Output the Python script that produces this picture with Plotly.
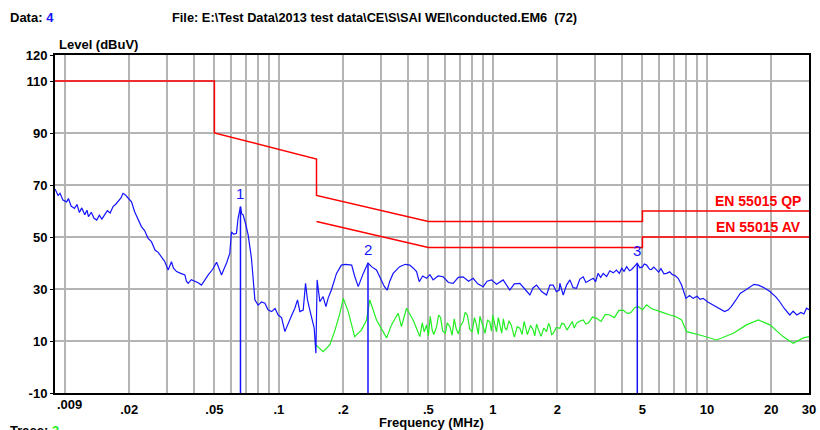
import math
import plotly.graph_objects as go

# ---------------- data ----------------
# Peak scan (blue), frequency in MHz, level in dBuV
blue_freq = [0.009, 0.0093, 0.0095, 0.0098, 0.0102, 0.0104, 0.0107, 0.0111, 0.0114, 0.0117,
             0.0120, 0.0124, 0.0127, 0.0129, 0.0133, 0.0137, 0.0141, 0.0145, 0.0149, 0.0154,
             0.0158, 0.0163, 0.0168, 0.0173, 0.0178, 0.0183, 0.0187, 0.0192, 0.0198, 0.0205,
             0.0212, 0.0220, 0.0228, 0.0236, 0.0245, 0.0254, 0.0264, 0.0273, 0.0283, 0.0293,
             0.0304, 0.0310, 0.0315, 0.0322, 0.0333, 0.0348, 0.0364, 0.0370, 0.0377, 0.0390,
             0.0405, 0.0420, 0.0435, 0.0450, 0.0468, 0.0490, 0.0512, 0.0525, 0.0540, 0.0555,
             0.0570, 0.0590, 0.0601, 0.0615, 0.0634, 0.0645, 0.0662, 0.0670, 0.0681, 0.0700,
             0.0719, 0.0745, 0.0773, 0.0800, 0.0830, 0.0861, 0.0890, 0.0925, 0.0960, 0.0993,
             0.103, 0.1067, 0.1105, 0.115, 0.1188, 0.1223, 0.1254, 0.130, 0.1333, 0.136,
             0.1396, 0.143, 0.1463, 0.149, 0.151, 0.1555, 0.161, 0.166, 0.170, 0.176,
             0.181, 0.186, 0.196, 0.205, 0.219, 0.226, 0.235, 0.242, 0.248, 0.261,
             0.272, 0.286, 0.302, 0.311, 0.321, 0.330, 0.342, 0.367, 0.390, 0.409,
             0.425, 0.440, 0.453, 0.470, 0.490, 0.508, 0.526, 0.555, 0.586, 0.620,
             0.652, 0.690, 0.726, 0.770, 0.809, 0.850, 0.901, 0.94, 0.986, 1.04,
             1.117, 1.16, 1.200, 1.26, 1.337, 1.41, 1.489, 1.543, 1.600, 1.69,
             1.782, 1.846, 1.913, 1.98, 2.042, 2.056, 2.132, 2.21, 2.291, 2.37,
             2.460, 2.55, 2.643, 2.72, 2.8, 2.943, 3.02, 3.1, 3.19, 3.277, 3.4,
             3.52, 3.65, 3.78, 3.9, 4.0, 4.1, 4.22, 4.35, 4.45, 4.6, 4.73, 4.86, 5.0,
             5.1, 5.23, 5.4, 5.5, 5.65, 5.82, 5.95, 6.1, 6.3, 6.48, 6.7, 6.9, 7.1,
             7.34, 7.62, 7.98, 8.3, 8.63, 9.0, 9.3, 9.61, 10.1, 10.7, 11.4, 12.1,
             12.6, 13.0, 13.6, 14.3, 15.1, 15.9, 16.6, 17.4, 18.5, 19.7, 21.0, 21.9,
             23.0, 24.4, 25.3, 26.3, 27.5, 28.4, 29.2, 30.0]
blue_level = [68.5, 66.0, 66.8, 64.2, 63.5, 64.8, 61.9, 61.0, 62.5, 59.4,
              61.2, 58.6, 60.3, 57.8, 59.5, 57.2, 56.5, 58.4, 56.9, 58.5,
              60.1, 59.2, 61.7, 62.6, 63.8, 65.0, 66.8, 66.2, 64.9, 63.5,
              59.7, 57.0, 54.0, 52.5, 49.5, 48.2, 45.0, 44.1, 42.4, 40.6,
              37.3, 38.8, 40.5, 38.0, 36.7, 36.0, 35.4, 33.0, 32.2, 33.6,
              33.0, 32.4, 31.5, 33.5, 35.4, 37.5, 40.3, 38.0, 35.4, 37.8,
              40.0, 43.7, 52.0, 51.0, 51.4, 57.2, 61.7, 59.0, 58.5, 55.0,
              50.8, 41.8, 25.8, 23.8, 25.0, 24.5, 22.0, 21.3, 22.5, 20.0,
              19.0, 13.6, 16.8, 20.0, 22.6, 25.8, 21.3, 21.9, 32.2, 26.0,
              21.9, 18.0, 15.0, 5.3, 33.5, 25.1, 27.1, 23.2, 26.5, 29.6,
              33.0, 36.0, 39.2, 39.5, 39.2, 35.0, 30.9, 34.0, 36.0, 40.0,
              38.5, 37.3, 33.5, 31.0, 29.6, 33.0, 36.0, 38.6, 39.5, 39.2,
              38.0, 36.7, 32.8, 35.0, 34.1, 35.5, 33.5, 35.0, 34.7, 32.5,
              32.2, 34.5, 34.7, 33.0, 34.1, 32.0, 30.9, 33.0, 33.5, 31.8,
              33.5, 31.5, 29.6, 32.0, 32.2, 30.0, 27.7, 30.5, 31.5, 29.0,
              27.7, 31.5, 31.5, 29.0, 29.6, 32.2, 27.7, 31.5, 33.5, 30.5,
              30.3, 33.8, 34.7, 32.5, 33.0, 34.1, 32.8, 36.0, 34.5, 36.0, 34.8,
              37.0, 36.2, 37.3, 36.0, 38.0, 36.8, 38.6, 37.0, 37.5, 38.8, 39.9, 38.2, 38.5,
              39.6, 39.2, 37.6, 37.5, 38.4, 37.3, 36.5, 37.8, 35.8, 36.0, 36.6, 35.5, 35.2,
              34.1, 31.5, 26.4, 27.5, 26.4, 27.2, 26.0, 26.4, 25.0, 23.8, 22.5, 21.3,
              22.0, 23.2, 25.5, 28.3, 29.5, 30.9, 31.8, 31.5, 30.5, 29.0, 27.0, 25.1,
              22.5, 20.0, 21.5, 20.0, 21.0, 20.4, 22.6, 22.0]

# Average scan (green)
green_freq = [0.149, 0.161, 0.173, 0.183, 0.193, 0.200, 0.211, 0.226, 0.243, 0.257,
              0.266, 0.286, 0.319, 0.336, 0.361, 0.374, 0.395, 0.424,
              0.456, 0.468, 0.478, 0.490, 0.500, 0.510, 0.521, 0.530, 0.546, 0.558,
              0.570, 0.583, 0.600, 0.612, 0.630, 0.645, 0.660, 0.675, 0.690, 0.708,
              0.726, 0.742, 0.760, 0.780, 0.800, 0.820, 0.839, 0.855, 0.870, 0.895,
              0.920, 0.944, 0.968, 0.985, 1.0, 1.02, 1.04, 1.06, 1.078, 1.10,
              1.12, 1.14, 1.159, 1.19, 1.22, 1.24, 1.26, 1.30, 1.337, 1.37,
              1.40, 1.43, 1.45, 1.50, 1.543, 1.57, 1.6, 1.64, 1.68, 1.73,
              1.782, 1.82, 1.85, 1.88, 1.91, 1.98, 2.056, 2.10, 2.15, 2.22,
              2.291, 2.35, 2.4, 2.46, 2.52,
              2.643, 2.72, 2.8, 2.92, 3.053, 3.2, 3.35, 3.52, 3.7, 3.88,
              4.06, 4.25, 4.4, 4.6, 4.78, 5.0, 5.23, 5.5, 5.82, 6.2,
              6.72, 7.1, 7.62, 8.04, 9.27, 11.1, 13.3, 15.3, 17.4,
              19.7, 22.7, 25.3, 28.2, 30.0]
green_level = [8.5, 5.9, 8.5, 14.2, 20.7, 26.4, 21.3, 11.7, 14.2, 18.1,
               25.8, 18.1, 11.2, 16.2, 20.7, 15.5, 22.6, 18.1,
               11.7, 17.0, 13.5, 16.2, 12.0, 19.5, 14.0, 12.5, 15.5, 20.0,
               19.0, 13.8, 13.0, 17.0, 15.5, 12.2, 18.5, 14.5, 12.8, 16.0,
               17.4, 21.0, 20.0, 14.5, 13.5, 19.0, 16.2, 12.5, 19.5, 16.0,
               13.0, 18.0, 17.4, 13.8, 20.0, 16.5, 13.5, 19.0, 16.2, 13.0,
               18.5, 15.0, 14.2, 17.8, 16.0, 13.0, 11.5, 15.5, 14.9, 12.5,
               17.5, 14.5, 12.5, 16.0, 14.2, 12.0, 16.5, 14.0, 11.8, 15.0,
               13.6, 16.8, 15.5, 12.5, 12.8, 15.2, 14.9, 16.8, 16.5, 14.2,
               16.2, 17.5, 15.0, 16.8, 17.5,
               18.1, 16.5, 17.0, 19.2, 18.7, 17.5, 20.2, 20.0, 19.0, 21.8,
               21.9, 20.6, 20.8, 22.8, 23.2, 22.0, 23.9, 22.5, 21.9, 21.0,
               20.0, 19.5, 18.1, 13.6, 12.3, 10.4, 13.0, 16.2, 18.1,
               16.2, 11.7, 9.1, 11.2, 11.7]
assert len(green_freq) == len(green_level)
assert len(blue_freq) == len(blue_level)

# Limit lines
qp_freq = [0.009, 0.05, 0.05, 0.15, 0.15, 0.5, 5, 5, 30]
qp_level = [110, 110, 90, 80, 66, 56, 56, 60, 60]
av_freq = [0.15, 0.5, 5, 5, 30]
av_level = [56, 46, 46, 50, 50]

# Markers
marker_labels = ["1", "2", "3"]
marker_freq = [0.0662, 0.261, 4.73]
marker_level = [61.7, 40.0, 39.9]

# Axis ticks
x_grid = [0.009, 0.01, 0.02, 0.03, 0.04, 0.05, 0.06, 0.07, 0.08, 0.09,
          0.1, 0.2, 0.3, 0.4, 0.5, 0.6, 0.7, 0.8, 0.9,
          1, 2, 3, 4, 5, 6, 7, 8, 9, 10, 20, 30]
x_labels = {0.02: ".02", 0.05: ".05", 0.1: ".1", 0.2: ".2", 0.5: ".5",
            1: "1", 2: "2", 5: "5", 10: "10", 20: "20", 30: "30"}
y_ticks = [-10, 10, 30, 50, 70, 90, 110, 120]
y_labels = ["-10", "10", "30", "50", "70", "90", "110", "120"]

# ---------------- figure ----------------
BLUE = "#1414ff"
GREEN = "#22ee22"
RED = "#ff0000"
FONT = "Liberation Sans"

fig = go.Figure()

fig.add_trace(go.Scatter(x=qp_freq, y=qp_level, mode="lines",
                         line=dict(color=RED, width=1.5), hoverinfo="skip"))
fig.add_trace(go.Scatter(x=av_freq, y=av_level, mode="lines",
                         line=dict(color=RED, width=1.5), hoverinfo="skip"))
fig.add_trace(go.Scatter(x=green_freq, y=green_level, mode="lines",
                         line=dict(color=GREEN, width=1.2)))
fig.add_trace(go.Scatter(x=blue_freq, y=blue_level, mode="lines",
                         line=dict(color=BLUE, width=1.2)))

for lab, f, lv in zip(marker_labels, marker_freq, marker_level):
    fig.add_trace(go.Scatter(x=[f, f], y=[-10, lv], mode="lines",
                             line=dict(color=BLUE, width=1.5)))
    fig.add_annotation(x=math.log10(f), y=lv + 1, xref="x", yref="y",
                       text=lab, showarrow=False, yanchor="bottom",
                       font=dict(family=FONT, size=15, color=BLUE))

for lab, lv in [("EN 55015 QP", 60), ("EN 55015 AV", 50)]:
    fig.add_annotation(x=math.log10(30) - 0.03, y=lv, xref="x", yref="y",
                       text=lab, showarrow=False, xanchor="right", yanchor="bottom",
                       font=dict(family=FONT, size=14, color=RED, weight="bold"))

# Header / axis titles (paper coordinates)
annots = [
    dict(x=-0.0623, y=1.112, text="Data: <span style='color:#1414ff'>4</span>", xanchor="left", size=13),
    dict(x=0.1525, y=1.112,
         text="File: E:\\Test Data\\2013 test data\\CE\\S\\SAI WEI\\conducted.EM6  (72)",
         xanchor="left", size=12.8),
    dict(x=0.0027, y=1.0296, text="Level (dBuV)", xanchor="left", size=13),
    dict(x=0.4987, y=-0.0858, text="Frequency (MHz)", xanchor="center", size=13),
    dict(x=0.0, y=-0.0355, text=".009", xanchor="left", size=13),
    dict(x=-0.0623, y=-0.1095, text="Trace: <span style='color:#22ee22'>3</span>", xanchor="left", size=13),
]
for a in annots:
    fig.add_annotation(x=a["x"], y=a["y"], xref="paper", yref="paper", text=a["text"],
                       xanchor=a["xanchor"], yanchor="middle", showarrow=False,
                       font=dict(family=FONT, size=a["size"], color="black", weight="bold"))

fig.update_xaxes(type="log", range=[math.log10(0.009), math.log10(30)],
                 tickvals=x_grid, ticktext=[x_labels.get(v, "") for v in x_grid],
                 showgrid=True, gridcolor="#b4b4b4", gridwidth=1.5,
                 showline=True, linecolor="black", linewidth=2, mirror=True,
                 ticks="", ticklabelstandoff=3, automargin=False,
                 tickfont=dict(family=FONT, size=13, color="black", weight="bold"),
                 zeroline=False)
fig.update_yaxes(range=[-10, 120], tickvals=y_ticks, ticktext=y_labels,
                 showgrid=True, gridcolor="#b4b4b4", gridwidth=1.5,
                 showline=True, linecolor="black", linewidth=2, mirror=True,
                 ticks="outside", ticklen=3, tickcolor="black", tickwidth=1,
                 automargin=False,
                 tickfont=dict(family=FONT, size=13, color="black", weight="bold"),
                 zeroline=False)

fig.update_layout(width=820, height=430, showlegend=False,
                  margin=dict(l=55, r=11, t=55, b=37),
                  paper_bgcolor="white", plot_bgcolor="white")

fig.write_html("out.html")
